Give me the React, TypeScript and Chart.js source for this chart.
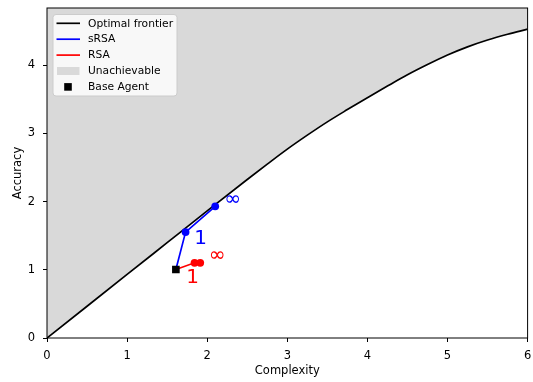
import React, { useEffect, useRef } from "react";
import { Chart, registerables } from "chart.js";

Chart.register(...registerables);

const FONT = "'DejaVu Sans', sans-serif";

// Optimal frontier
const frontierX = [0, 0.5, 1, 1.5, 2, 2.5, 2.75, 3, 3.25, 3.5, 3.75, 4, 4.25, 4.5, 4.75, 5, 5.25, 5.5, 5.75, 6];
const frontierY = [0, 0.466, 0.932, 1.398, 1.864, 2.325, 2.55, 2.77, 2.975, 3.17, 3.35, 3.525, 3.695, 3.86, 4.01, 4.15, 4.27, 4.37, 4.455, 4.53];

// sRSA path (starts at base agent)
const srsaX = [1.609, 1.73, 2.1];
const srsaY = [1.004, 1.553, 1.931];

// RSA path (starts at base agent)
const rsaX = [1.609, 1.842, 1.913];
const rsaY = [1.004, 1.103, 1.103];

// Base agent
const baseX = [1.609];
const baseY = [1.004];

// Annotations
const noteText = ["1", "\u221e", "1", "\u221e"];
const noteX = [1.917, 2.316, 1.817, 2.123];
const noteY = [1.45, 2.034, 0.887, 1.203];
const noteColor = ["#0000ff", "#0000ff", "#ff0000", "#ff0000"];

const xTicks = [0, 1, 2, 3, 4, 5, 6];
const yTicks = [0, 1, 2, 3, 4];
const xRange = [0, 6];
const yRange = [0, 4.84];

const legendLabels = ["Optimal frontier", "sRSA", "RSA", "Unachievable", "Base Agent"];

const pts = (xs: number[], ys: number[]) => xs.map((x, i) => ({ x, y: ys[i] }));

const decorPlugin = {
  id: "decor",
  afterDraw(chart: any) {
    const { ctx, chartArea, scales } = chart;
    const { left, top, right, bottom } = chartArea;
    ctx.save();
    // spines
    ctx.strokeStyle = "#000";
    ctx.lineWidth = 1;
    ctx.strokeRect(left, top, right - left, bottom - top);

    // annotations
    ctx.textAlign = "center";
    ctx.textBaseline = "middle";
    ctx.font = `20px ${FONT}`;
    noteText.forEach((t, i) => {
      ctx.fillStyle = noteColor[i];
      ctx.fillText(t, scales.x.getPixelForValue(noteX[i]), scales.y.getPixelForValue(noteY[i]));
    });

    // legend
    const bx = 53, by = 14.5, bw = 124, bh = 81.5, r = 3;
    ctx.beginPath();
    ctx.moveTo(bx + r, by);
    ctx.lineTo(bx + bw - r, by);
    ctx.quadraticCurveTo(bx + bw, by, bx + bw, by + r);
    ctx.lineTo(bx + bw, by + bh - r);
    ctx.quadraticCurveTo(bx + bw, by + bh, bx + bw - r, by + bh);
    ctx.lineTo(bx + r, by + bh);
    ctx.quadraticCurveTo(bx, by + bh, bx, by + bh - r);
    ctx.lineTo(bx, by + r);
    ctx.quadraticCurveTo(bx, by, bx + r, by);
    ctx.closePath();
    ctx.fillStyle = "rgba(255,255,255,0.8)";
    ctx.fill();
    ctx.strokeStyle = "#cccccc";
    ctx.lineWidth = 1;
    ctx.stroke();

    const rowY = (i: number) => 23.3 + i * 15.9;
    const hx0 = 56.5, hx1 = 80;
    const lineColors = ["#000000", "#0000ff", "#ff0000"];
    lineColors.forEach((c, i) => {
      ctx.beginPath();
      ctx.strokeStyle = c;
      ctx.lineWidth = 1.7;
      ctx.moveTo(hx0, rowY(i));
      ctx.lineTo(hx1, rowY(i));
      ctx.stroke();
    });
    ctx.fillStyle = "#d9d9d9";
    ctx.fillRect(57, rowY(3) - 4, 22.5, 8);
    ctx.fillStyle = "#000";
    ctx.fillRect(64.2, rowY(4) - 3.8, 7.6, 7.6);

    ctx.font = `10.7px ${FONT}`;
    ctx.textAlign = "left";
    ctx.textBaseline = "middle";
    ctx.fillStyle = "#000";
    legendLabels.forEach((t, i) => ctx.fillText(t, 88, rowY(i) + 0.5));
    ctx.restore();
  },
};

export default function App() {
  const ref = useRef<HTMLCanvasElement | null>(null);
  useEffect(() => {
    if (!ref.current) return;
    const tickFont = { family: FONT, size: 11.5 };
    const chart = new Chart(ref.current, {
      type: "line",
      data: {
        datasets: [
          {
            label: "Unachievable",
            data: pts(frontierX, frontierY),
            borderWidth: 0,
            borderColor: "rgba(0,0,0,0)",
            backgroundColor: "#d9d9d9",
            fill: "end",
            pointRadius: 0,
            cubicInterpolationMode: "monotone",
            order: 5,
          },
          {
            label: "Optimal frontier",
            data: pts(frontierX, frontierY),
            borderWidth: 1.7,
            borderColor: "#000",
            fill: false,
            pointRadius: 0,
            cubicInterpolationMode: "monotone",
            order: 4,
          },
          {
            label: "RSA",
            data: pts(rsaX, rsaY),
            borderWidth: 1.7,
            borderColor: "#ff0000",
            backgroundColor: "#ff0000",
            pointBackgroundColor: "#ff0000",
            pointBorderWidth: 0,
            pointRadius: [0, 3.9, 3.9],
            fill: false,
            tension: 0,
            order: 3,
          },
          {
            label: "sRSA",
            data: pts(srsaX, srsaY),
            borderWidth: 1.7,
            borderColor: "#0000ff",
            backgroundColor: "#0000ff",
            pointBackgroundColor: "#0000ff",
            pointBorderWidth: 0,
            pointRadius: [0, 3.9, 3.9],
            fill: false,
            tension: 0,
            order: 2,
          },
          {
            label: "Base Agent",
            data: pts(baseX, baseY),
            showLine: false,
            pointStyle: "rect",
            pointRadius: 5.4,
            pointBorderWidth: 0,
            pointBackgroundColor: "#000",
            backgroundColor: "#000",
            order: 1,
          },
        ],
      },
      options: {
        responsive: false,
        animation: false,
        devicePixelRatio: 1,
        events: [],
        layout: { padding: { top: 8, right: 4.7, left: 0, bottom: 0 } },
        plugins: { legend: { display: false }, tooltip: { enabled: false } },
        scales: {
          x: {
            type: "linear",
            min: xRange[0],
            max: xRange[1],
            afterFit: (s: any) => { s.height = 44; s.paddingLeft = 0; s.paddingRight = 0; },
            afterBuildTicks: (s: any) => { s.ticks = xTicks.map((v) => ({ value: v })); },
            grid: { drawOnChartArea: false, drawTicks: true, tickLength: 4, color: "#000", lineWidth: 1 },
            border: { display: false },
            ticks: { font: tickFont, color: "#000", padding: 7, maxRotation: 0, autoSkip: false },
            title: { display: true, text: "Complexity", font: tickFont, color: "#000", padding: { top: 0, bottom: 4 } },
          },
          y: {
            type: "linear",
            min: yRange[0],
            max: yRange[1],
            afterFit: (s: any) => { s.width = 47; s.paddingTop = 0; s.paddingBottom = 0; },
            afterBuildTicks: (s: any) => { s.ticks = yTicks.map((v) => ({ value: v })); },
            grid: { drawOnChartArea: false, drawTicks: true, tickLength: 4, color: "#000", lineWidth: 1 },
            border: { display: false },
            ticks: { font: tickFont, color: "#000", padding: 8, autoSkip: false },
            title: { display: true, text: "Accuracy", font: tickFont, color: "#000", padding: { top: 10.8, bottom: 0 } },
          },
        },
      },
      plugins: [decorPlugin],
    } as any);
    return () => chart.destroy();
  }, []);
  return (
    <div style={{ position: "fixed", left: 0, top: 0, width: 533, height: 382, background: "#fff" }}>
      <canvas ref={ref} width={533} height={382} style={{ display: "block", width: 533, height: 382 }} />
    </div>
  );
}
